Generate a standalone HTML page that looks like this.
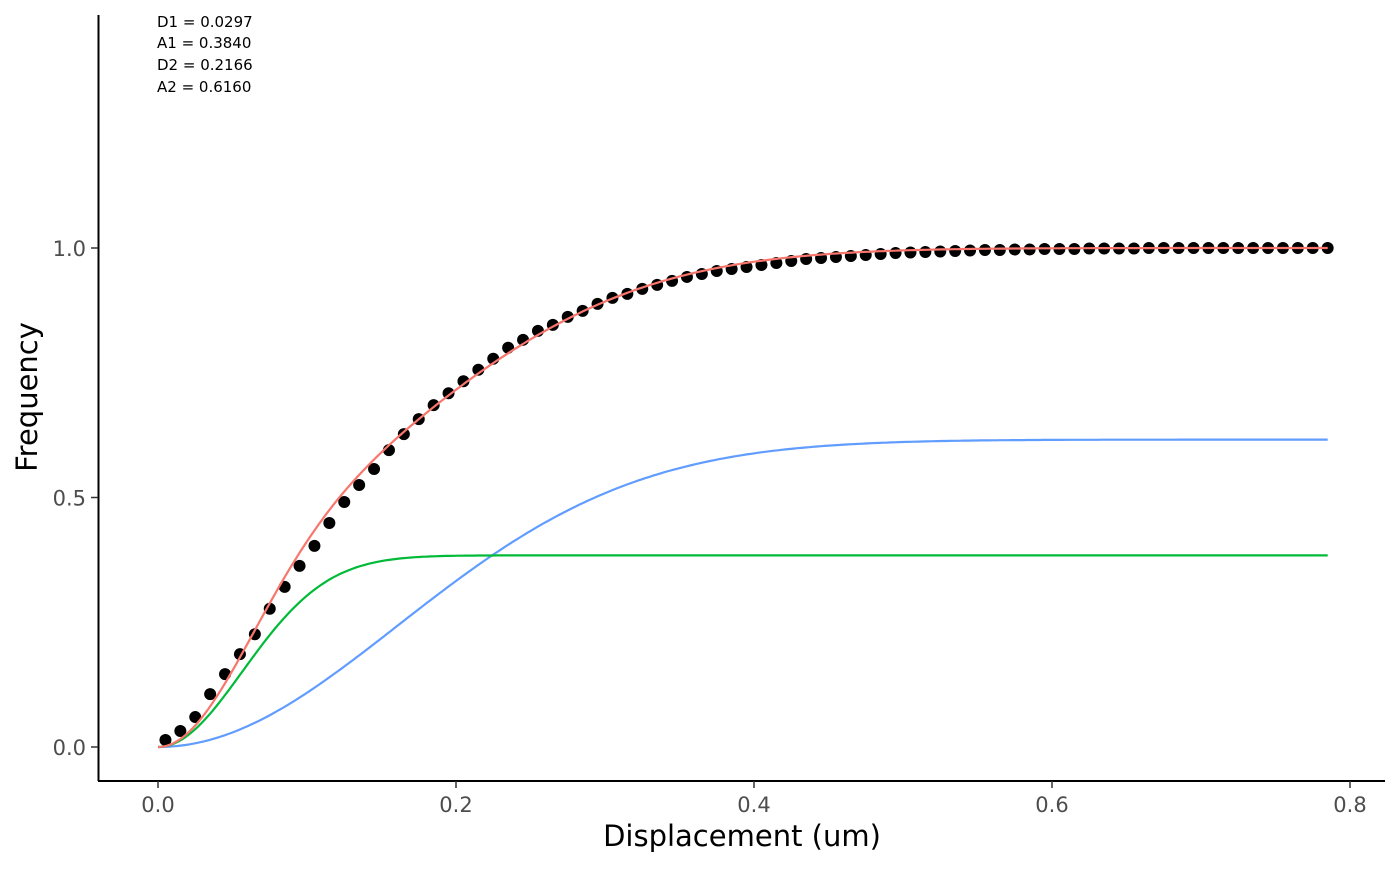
<!DOCTYPE html>
<html><head><meta charset="utf-8"><style>
html,body{margin:0;padding:0;background:#fff;}
svg text{font-family:"DejaVu Sans","Liberation Sans",sans-serif;}
</style></head><body>
<svg id="chart" width="1400" height="866" xmlns="http://www.w3.org/2000/svg">
<rect width="1400" height="866" fill="#fff"/>
<g id="annot" font-size="15" fill="#000">
<text x="157" y="27">D1 = 0.0297</text>
<text x="157" y="48">A1 = 0.3840</text>
<text x="157" y="70">D2 = 0.2166</text>
<text x="157" y="92">A2 = 0.6160</text>
</g>
<g id="marks"></g>
<line x1="98.5" y1="15" x2="98.5" y2="781" stroke="#000" stroke-width="2"/>
<line x1="98" y1="781" x2="1385" y2="781" stroke="#000" stroke-width="2"/>
<g id="axes"></g>
<text x="742" y="846" font-size="29" text-anchor="middle">Displacement (um)</text>
<text transform="translate(37,397) rotate(-90)" font-size="29" text-anchor="middle">Frequency</text>
</svg>
<script>
const xTicks=[0,0.2,0.4,0.6,0.8];
const xTickLabels=["0.0","0.2","0.4","0.6","0.8"];
const yTicks=[0,0.5,1];
const yTickLabels=["0.0","0.5","1.0"];
const pointValues=[0.014,0.032,0.060,0.106,0.146,0.186,0.226,0.277,0.321,0.363,0.403,0.449,0.491,0.525,0.557,0.595,0.627,0.657,0.685,0.709,0.733,0.756,0.778,0.800,0.816,0.834,0.846,0.862,0.874,0.888,0.900,0.908,0.918,0.926,0.934,0.942,0.948,0.954,0.958,0.962,0.966,0.970,0.974,0.978,0.980,0.982,0.984,0.986,0.988,0.990,0.991,0.992,0.993,0.994,0.995,0.996,0.996,0.997,0.997,0.998,0.998,0.998,0.999,0.999,0.999,0.999,1,1,1,1,1,1,1,1,1,1,1,1,1];
const pointStart=0.005, pointStep=0.01;
const amplitudes=[0.384,0.616];
const scales=[0.0064,0.0515];
const compColors=["#00BA38","#619CFF"];
const fitColor="#F8766D";
const xr=r=>158+r*1490;
const yv=v=>747-v*499;
const NS="http://www.w3.org/2000/svg";
const marks=document.getElementById('marks'), axes=document.getElementById('axes');
function comp(i,r){return amplitudes[i]*(1-Math.exp(-r*r/scales[i]));}
function line(fn,color,name){
  let d="";for(let k=0;k<=300;k++){const r=0.785*k/300;d+=(k?"L":"M")+xr(r).toFixed(1)+","+yv(fn(r)).toFixed(1);}
  const p=document.createElementNS(NS,'path');p.setAttribute('d',d);p.setAttribute('fill','none');p.setAttribute('stroke',color);p.setAttribute('stroke-width','2.2');
  
  
  marks.appendChild(p);
}
line(r=>comp(1,r),compColors[1],'component-2-curve');
line(r=>comp(0,r),compColors[0],'component-1-curve');
pointValues.forEach((v,i)=>{
  const c=document.createElementNS(NS,'circle');c.setAttribute('cx',xr(pointStart+i*pointStep));c.setAttribute('cy',yv(v));c.setAttribute('r','6');c.setAttribute('fill','#000');
  
  
  marks.appendChild(c);
});
line(r=>comp(0,r)+comp(1,r),fitColor,'fit-curve');
xTicks.forEach((t,i)=>{
  const l=document.createElementNS(NS,'line');l.setAttribute('x1',xr(t));l.setAttribute('x2',xr(t));l.setAttribute('y1',781);l.setAttribute('y2',788);l.setAttribute('stroke','#333');l.setAttribute('stroke-width','1.5');
  
  
  axes.appendChild(l);
  const tx=document.createElementNS(NS,'text');tx.setAttribute('x',xr(t));tx.setAttribute('y',812);tx.setAttribute('font-size','21');tx.setAttribute('fill','#4d4d4d');tx.setAttribute('text-anchor','middle');tx.textContent=xTickLabels[i];
  
  
  axes.appendChild(tx);
});
yTicks.forEach((t,i)=>{
  const l=document.createElementNS(NS,'line');l.setAttribute('x1',91);l.setAttribute('x2',98);l.setAttribute('y1',yv(t));l.setAttribute('y2',yv(t));l.setAttribute('stroke','#333');l.setAttribute('stroke-width','1.5');
  
  
  axes.appendChild(l);
  const tx=document.createElementNS(NS,'text');tx.setAttribute('x',86);tx.setAttribute('y',yv(t)+8);tx.setAttribute('font-size','21');tx.setAttribute('fill','#4d4d4d');tx.setAttribute('text-anchor','end');tx.textContent=yTickLabels[i];
  
  
  axes.appendChild(tx);
});
</script>
</body></html>
